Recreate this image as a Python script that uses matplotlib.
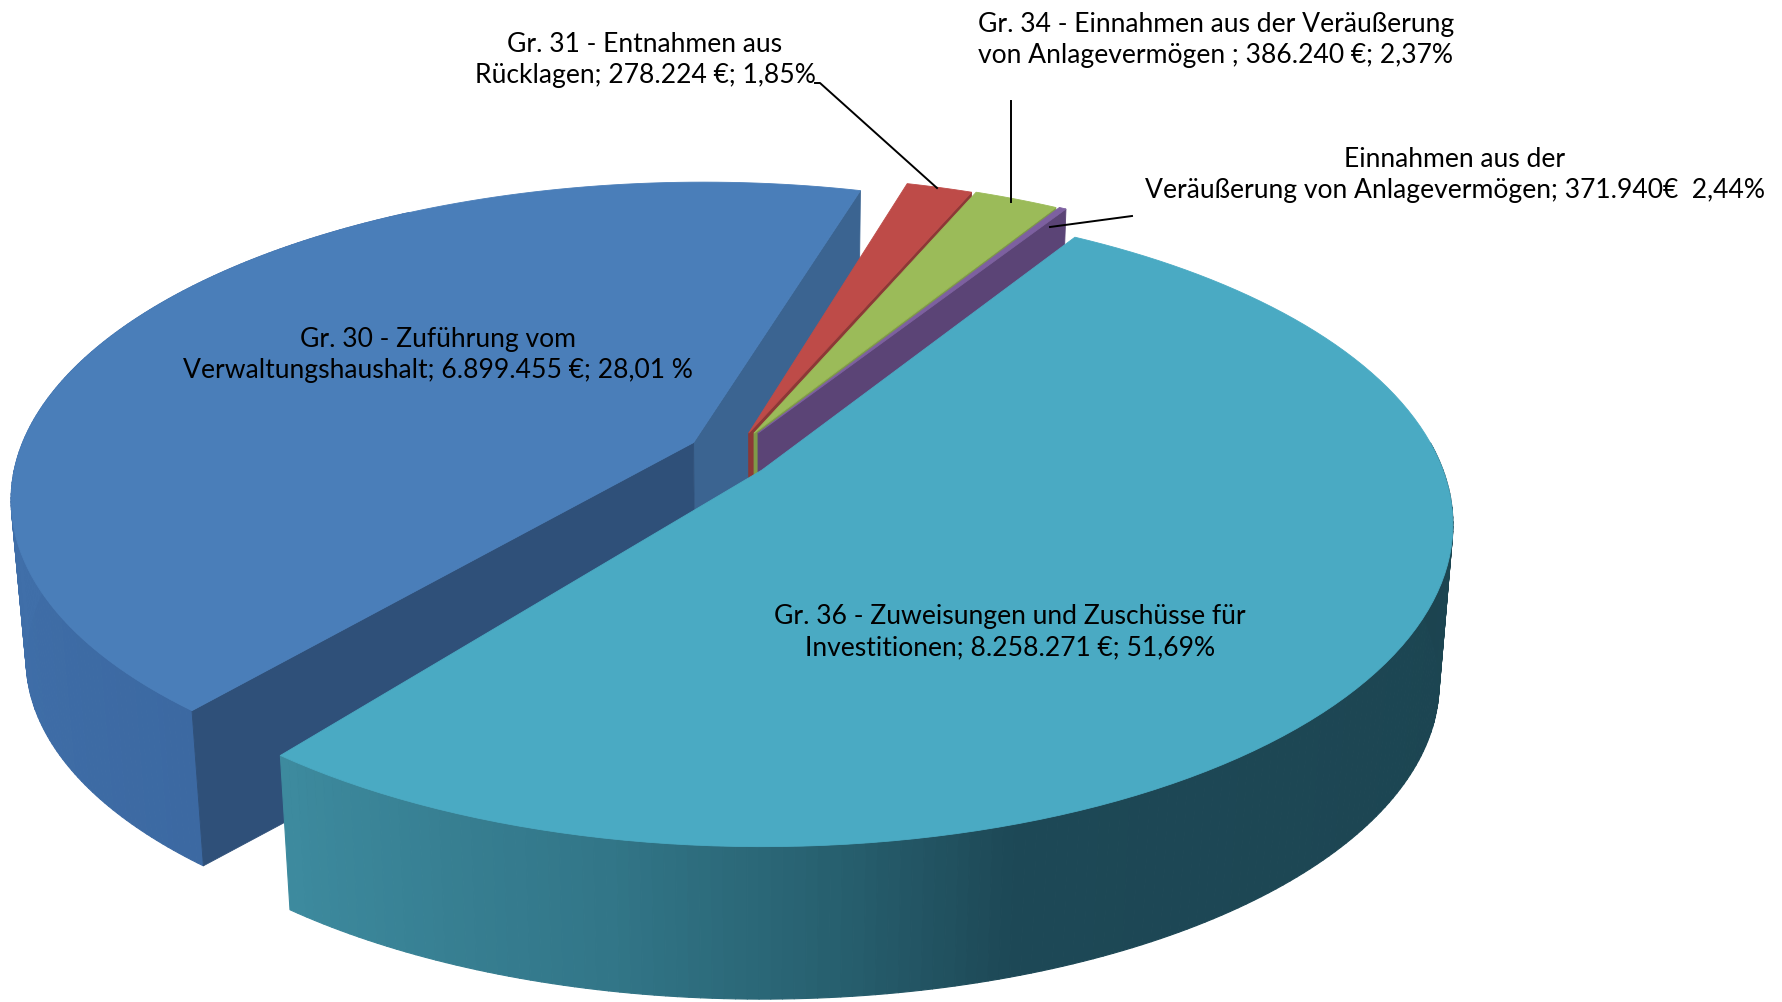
"""Exploded 3D pie of the investment budget income groups."""

import matplotlib

matplotlib.use("Agg")
import matplotlib.pyplot as plt  # noqa: E402
import numpy as np  # noqa: E402
from matplotlib.collections import PolyCollection  # noqa: E402
from matplotlib.colors import LinearSegmentedColormap  # noqa: E402

# share of the circle each slice takes in the drawing (percent)
groups = ["Gr. 30", "Gr. 31", "Gr. 34", "Einnahmen", "Gr. 36"]
shares = [43.36, 1.85, 2.37, 0.2, 51.69]

labels = [
    "Gr. 30 - Zuführung vom\nVerwaltungshaushalt; 6.899.455 €; 28,01 %",
    "Gr. 31 - Entnahmen aus\nRücklagen; 278.224 €; 1,85%",
    "Gr. 34 - Einnahmen aus der Veräußerung\nvon Anlagevermögen ; 386.240 €; 2,37%",
    "Einnahmen aus der\nVeräußerung von Anlagevermögen; 371.940€  2,44%",
    "Gr. 36 - Zuweisungen und Zuschüsse für\nInvestitionen; 8.258.271 €; 51,69%",
]

top_colors = ["#4a7eb9", "#be4b48", "#9bbb59", "#7d60a0", "#4aaac3"]
face_colors = ["#2f5079", "#8c3836", "#7f9a48", "#5b4476", "#4aaac3"]
explode = [(-0.102, 0.089), (-0.02, 0.12), (-0.012, 0.12), (-0.006, 0.12), (0.0, 0.0)]
label_pos = [(438, 355), (645, 60), (1216, 40), (1455, 175), (1010, 632)]

# camera
CX, CY = 762, 470
A, B, K = 681, 313, 0.169
DEPTH, SHRINK = 160, 0.02
START = 230.3


def project(x, y, z=0.0):
    w = 1 + K * y
    px = A * x / w
    py = -B * y / w
    return CX + px * (1 - SHRINK * z), CY + py * (1 - SHRINK * z) + DEPTH * z


def rim(t1, t2, off, z=0.0, n=120):
    t = np.radians(np.linspace(t1, t2, n))
    return project(off[0] + np.cos(t), off[1] + np.sin(t), z)


def top_face(ax, t1, t2, off, color, zorder):
    xs, ys = rim(t1, t2, off)
    ax0, ay0 = project(off[0], off[1])
    ax.fill(np.r_[ax0, xs], np.r_[ay0, ys], color=color, lw=0.6, zorder=zorder)


def cut_face(ax, t, off, color, zorder):
    r = np.radians(t)
    pts = [
        project(off[0], off[1]),
        project(off[0] + np.cos(r), off[1] + np.sin(r)),
        project(off[0] + np.cos(r), off[1] + np.sin(r), 1.0),
        project(off[0], off[1], 1.0),
    ]
    ax.fill(*zip(*pts), color=color, lw=0.6, zorder=zorder)


def side_wall(ax, t1, t2, off, cmap, zorder, n=160):
    tx, ty = rim(t1, t2, off, 0.0, n)
    bx, by = rim(t1, t2, off, 1.0, n)
    quads = [
        [(tx[i], ty[i]), (tx[i + 1], ty[i + 1]), (bx[i + 1], by[i + 1]), (bx[i], by[i])]
        for i in range(n - 1)
    ]
    colors = cmap(np.linspace(0, 1, n - 1))
    ax.add_collection(
        PolyCollection(quads, facecolors=colors, edgecolors=colors, linewidths=0.8, zorder=zorder)
    )


plt.rcParams["font.family"] = ["Lato", "DejaVu Sans"]
fig = plt.figure(figsize=(17.82, 10.02), dpi=100)
ax = fig.add_axes([0, 0, 1, 1])
ax.set_xlim(0, 1782)
ax.set_ylim(1002, 0)
ax.axis("off")

# wedges run clockwise from START, the gap left before the start belongs to the explosion
edges = START - np.r_[0, np.cumsum(shares)] * 3.6

blue_side = LinearSegmentedColormap.from_list("b", ["#3c69a2", "#3f6ea8", "#4271ab", "#4470a9"])
teal_side = LinearSegmentedColormap.from_list(
    "t",
    [(0, "#3d8a9e"), (0.2, "#327688"), (0.32, "#27606f"), (0.42, "#1d4856"), (1, "#1c4450")],
)

# blue slice, back to front
side_wall(ax, edges[0], 120, explode[0], blue_side, 1)
cut_face(ax, edges[1], explode[0], "#3b6491", 2)
cut_face(ax, edges[0], explode[0], face_colors[0], 2)
top_face(ax, edges[1], edges[0], explode[0], top_colors[0], 3)

# the three small slices
for i in (1, 2, 3):
    cut_face(ax, edges[i + 1], explode[i], face_colors[i], 3 + i)
    top_face(ax, edges[i + 1], edges[i], explode[i], top_colors[i], 3 + i)

# big slice in front
side_wall(ax, edges[5], 5, explode[4], teal_side, 8)
top_face(ax, edges[5], edges[4], explode[4], top_colors[4], 9)

# leader lines
ax.plot([815, 820, 937], [83, 83, 188], color="black", lw=1.4, zorder=10)
ax.plot([1011, 1011], [101, 202], color="black", lw=1.4, zorder=10)
ax.plot([1132, 1050], [216, 227], color="black", lw=1.4, zorder=10)

for text, (x, y) in zip(labels, label_pos):
    ax.text(x, y, text, ha="center", va="center", fontsize=19.1, linespacing=1.3, color="black", zorder=11)

fig.savefig("out.png", dpi=100)
plt.close(fig)
